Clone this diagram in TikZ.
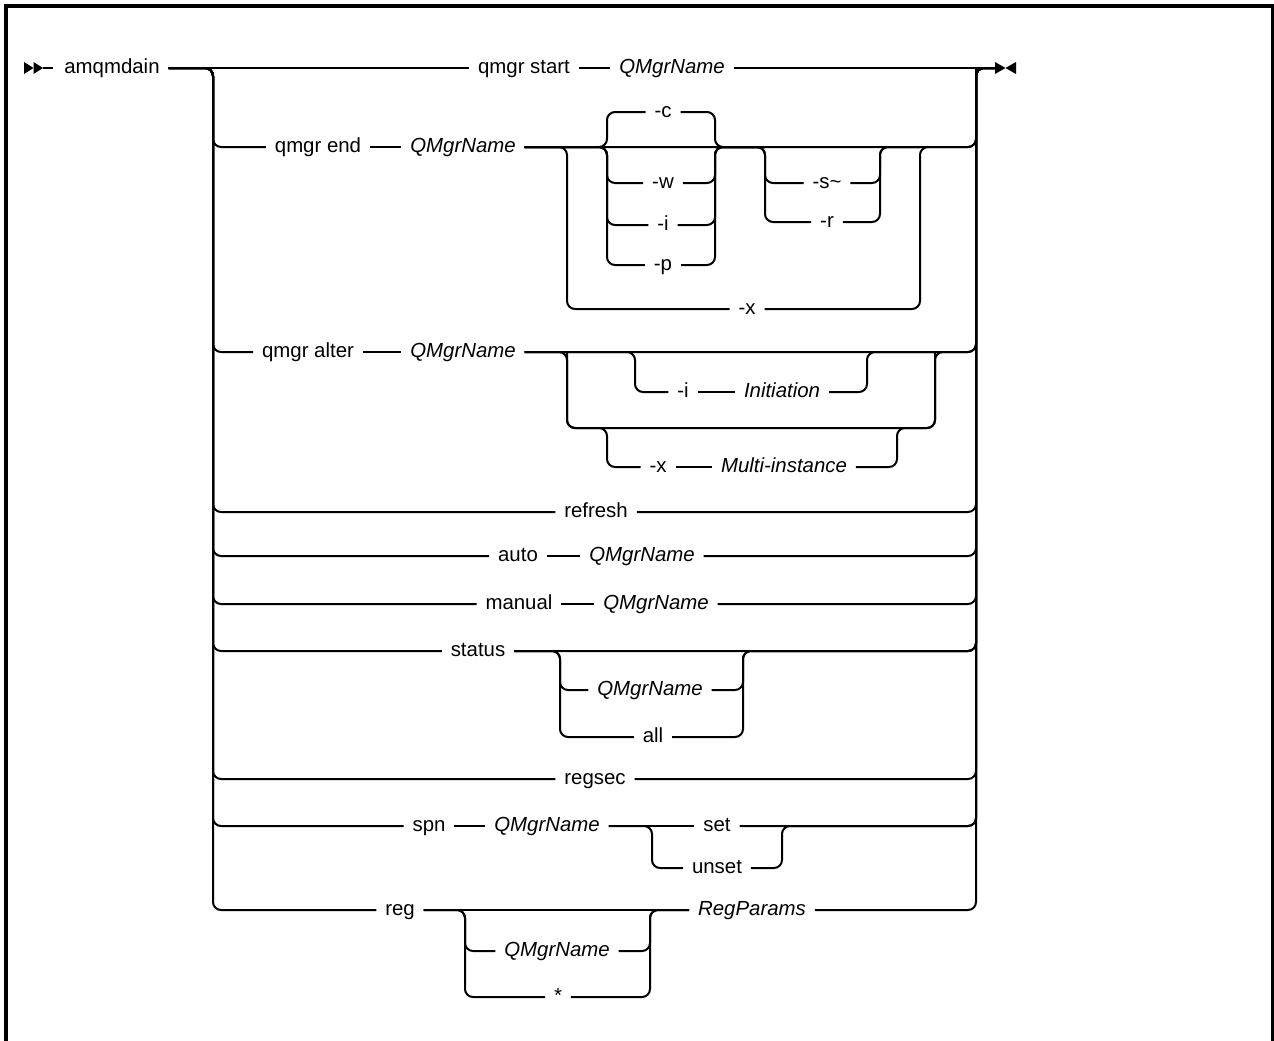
\documentclass[tikz,border=0pt]{standalone}
\usepackage{fontspec}
\setmainfont{Liberation Sans}
\begin{document}
\begin{tikzpicture}[x=0.5pt,y=-0.5pt,
    rail/.style={line width=1pt, rounded corners=4pt},
    kw/.style={font=\fontsize{10.2}{12}\selectfont, inner xsep=4.5pt, inner ysep=1pt, outer sep=0pt, anchor=mid},
    var/.style={kw, font=\fontsize{10.2}{12}\selectfont\itshape}]
    \useasboundingbox (0,0) rectangle (1274,1040);

    % Draw the frame
    \draw[line width=1.6pt] (6,1060) -- (6,6) -- (1272.5,6) -- (1272.5,1060);

    % Rails and junctions
    \coordinate (lrail) at (213,68);
    \coordinate (rrail) at (976,68);
    \coordinate (emark) at (995,68);
    \coordinate (xL) at (567,147);  \coordinate (xR) at (920,147);
    \coordinate (cL) at (607,147);  \coordinate (cR) at (715,147);
    \coordinate (sL) at (765,147);  \coordinate (sR) at (880,147);
    \coordinate (aL) at (567,352);  \coordinate (aR) at (935,352);
    \coordinate (iL) at (635,352);  \coordinate (iR) at (867,352);
    \coordinate (mL) at (607,428);  \coordinate (mR) at (897,428);
    \coordinate (stL) at (560,651); \coordinate (stR) at (743,651);
    \coordinate (setL) at (652,826); \coordinate (setR) at (782,826);
    \coordinate (gL) at (465,910);  \coordinate (gR) at (650,910);

    % Keywords and variables
    \node[kw] (amq) at (112,68) {amqmdain};
    \node[kw] (qstart) at (524,68) {qmgr start};
    \node[var] (qstartn) at (672,68) {QMgrName};
    \node[kw] (qend) at (318,147) {qmgr end};
    \node[var] (qendn) at (463,147) {QMgrName};
    \node[kw] (endc) at (663,112) {-c};
    \node[kw] (endw) at (663,183) {-w};
    \node[kw] (endi) at (663,225) {-i};
    \node[kw] (endp) at (663,265) {-p};
    \node[kw] (ends) at (827,183) {-s\textasciitilde};
    \node[kw] (endr) at (827,222) {-r};
    \node[kw] (endx) at (747,309) {-x};
    \node[kw] (qalt) at (308,352) {qmgr alter};
    \node[var] (qaltn) at (463,352) {QMgrName};
    \node[kw] (alti) at (683,392) {-i};
    \node[var] (altinit) at (782,392) {Initiation};
    \node[kw] (altx) at (658,467) {-x};
    \node[var] (altmulti) at (784,467) {Multi-instance};
    \node[kw] (refresh) at (596,512) {refresh};
    \node[kw] (auto) at (518,556) {auto};
    \node[var] (auton) at (642,556) {QMgrName};
    \node[kw] (manual) at (519,604) {manual};
    \node[var] (manualn) at (656,604) {QMgrName};
    \node[kw] (status) at (478,651) {status};
    \node[var] (statusn) at (650,690) {QMgrName};
    \node[kw] (statusall) at (653,737) {all};
    \node[kw] (regsec) at (595,779) {regsec};
    \node[kw] (spn) at (429,826) {spn};
    \node[var] (spnn) at (547,826) {QMgrName};
    \node[kw] (spnset) at (717,826) {set};
    \node[kw] (spnunset) at (717,868) {unset};
    \node[kw] (reg) at (400,910) {reg};
    \node[var] (regn) at (557,951) {QMgrName};
    \node[kw] (regstar) at (558,997) {*};
    \node[var] (regparams) at (752,910) {RegParams};

    % Start and end marks
    \fill (24,62) -- (33.5,68) -- (24,74) -- cycle;
    \fill (33.5,62) -- (43,68) -- (33.5,74) -- cycle;
    \draw[line width=1pt] (43,68) -- (53,68);
    \fill (995,62) -- (1005.5,68) -- (995,74) -- cycle;
    \fill (1016,62) -- (1005.5,68) -- (1016,74) -- cycle;

    % qmgr start
    \draw[rail] (amq.mid east) -- (qstart.mid west);
    \draw[rail] (qstart.mid east) -- (qstartn.mid west);
    \draw[rail] (qstartn.mid east) -- (emark);

    % qmgr end
    \draw[rail] (amq.mid east) -- (lrail) |- (qend.mid west);
    \draw[rail] (qend.mid east) -- (qendn.mid west);
    \draw[rail] (qendn.mid east) -| (rrail) -- (emark);
    \foreach \o in {endc,endw,endi,endp} {
        \draw[rail] (qendn.mid east) -- (cL) |- (\o.mid west);
        \draw[rail] (\o.mid east) -| (cR) -- (sL);
    }
    \foreach \o in {ends,endr} {
        \draw[rail] (cR) -- (sL) |- (\o.mid west);
        \draw[rail] (\o.mid east) -| (sR) -- (xR);
    }
    \draw[rail] (qendn.mid east) -- (xL) |- (endx.mid west);
    \draw[rail] (endx.mid east) -| (xR) -| (rrail);

    % qmgr alter
    \draw[rail] (amq.mid east) -- (lrail) |- (qalt.mid west);
    \draw[rail] (qalt.mid east) -- (qaltn.mid west);
    \draw[rail] (qaltn.mid east) -| (rrail) -- (emark);
    \draw[rail] (qaltn.mid east) -- (iL) |- (alti.mid west);
    \draw[rail] (alti.mid east) -- (altinit.mid west);
    \draw[rail] (altinit.mid east) -| (iR) -- (aR);
    \draw[rail] (qaltn.mid east) -- (aL) |- (mL) -- (mR) -| (aR) -| (rrail);
    \draw[rail] (aL) |- (mL) |- (altx.mid west);
    \draw[rail] (altx.mid east) -- (altmulti.mid west);
    \draw[rail] (altmulti.mid east) -| (mR) -| (aR);

    % refresh, auto, manual
    \draw[rail] (amq.mid east) -- (lrail) |- (refresh.mid west);
    \draw[rail] (refresh.mid east) -| (rrail) -- (emark);
    \draw[rail] (amq.mid east) -- (lrail) |- (auto.mid west);
    \draw[rail] (auto.mid east) -- (auton.mid west);
    \draw[rail] (auton.mid east) -| (rrail) -- (emark);
    \draw[rail] (amq.mid east) -- (lrail) |- (manual.mid west);
    \draw[rail] (manual.mid east) -- (manualn.mid west);
    \draw[rail] (manualn.mid east) -| (rrail) -- (emark);

    % status
    \draw[rail] (amq.mid east) -- (lrail) |- (status.mid west);
    \draw[rail] (status.mid east) -| (rrail) -- (emark);
    \foreach \o in {statusn,statusall} {
        \draw[rail] (status.mid east) -- (stL) |- (\o.mid west);
        \draw[rail] (\o.mid east) -| (stR) -| (rrail);
    }

    % regsec
    \draw[rail] (amq.mid east) -- (lrail) |- (regsec.mid west);
    \draw[rail] (regsec.mid east) -| (rrail) -- (emark);

    % spn
    \draw[rail] (amq.mid east) -- (lrail) |- (spn.mid west);
    \draw[rail] (spn.mid east) -- (spnn.mid west);
    \draw[rail] (spnn.mid east) -- (spnset.mid west);
    \draw[rail] (spnset.mid east) -| (rrail) -- (emark);
    \draw[rail] (spnn.mid east) -- (setL) |- (spnunset.mid west);
    \draw[rail] (spnunset.mid east) -| (setR) -| (rrail);

    % reg
    \draw[rail] (amq.mid east) -- (lrail) |- (reg.mid west);
    \draw[rail] (reg.mid east) -- (regparams.mid west);
    \draw[rail] (regparams.mid east) -| (rrail) -- (emark);
    \foreach \o in {regn,regstar} {
        \draw[rail] (reg.mid east) -- (gL) |- (\o.mid west);
        \draw[rail] (\o.mid east) -| (gR) -- (regparams.mid west);
    }
\end{tikzpicture}
\end{document}
